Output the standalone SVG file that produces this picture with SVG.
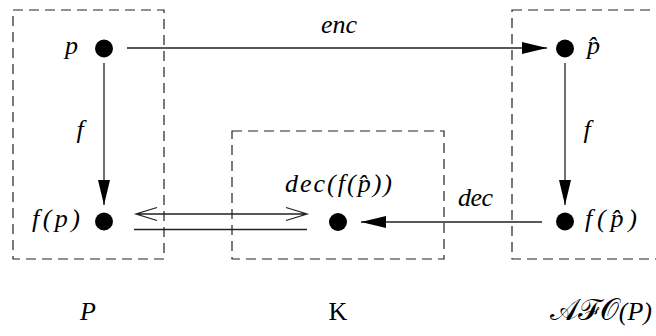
<svg xmlns="http://www.w3.org/2000/svg" width="656" height="336" viewBox="0 0 656 336">
<style>
.box{fill:none;stroke:#222;stroke-width:1.2;stroke-dasharray:10 6}
.ln{fill:none;stroke:#222;stroke-width:1.3}
.dot{fill:#000}
.m{font-family:"Liberation Serif","DejaVu Serif",serif;font-style:italic;font-size:26px;fill:#000}
.r{font-family:"Liberation Serif","DejaVu Serif",serif;font-size:26px;fill:#000}
.c{font-family:"DejaVu Serif","Liberation Serif",serif;font-size:30px;fill:#000}
</style>
<defs>
<marker id="ah" markerWidth="26" markerHeight="12" refX="25" refY="6" orient="auto" markerUnits="userSpaceOnUse">
<path d="M0,0 L25,6 L0,12 Z" fill="#000"/>
</marker>
</defs>
<g id="boxP"><rect class="box" x="13" y="10" width="151" height="249"/></g>
<g id="boxK"><rect class="box" x="232" y="131" width="212" height="128"/></g>
<g id="boxAFO"><rect class="box" x="512" y="10" width="160" height="249"/></g>
<g id="connectors">
<line class="ln" x1="127" y1="48" x2="547" y2="48" marker-end="url(#ah)"/>
<line class="ln" x1="104" y1="63" x2="104" y2="205" marker-end="url(#ah)"/>
<line class="ln" x1="565" y1="63" x2="565" y2="205" marker-end="url(#ah)"/>
<line class="ln" x1="542" y1="222" x2="361" y2="222" marker-end="url(#ah)"/>
<path class="ln" d="M136,214 L307,214 M157,207.5 L136,214 L157,220.5 M286,207.5 L307,214 L286,220.5"/>
<line class="ln" x1="134" y1="229.5" x2="307" y2="229.5"/>
</g>
<g id="node-p"><circle class="dot" cx="104" cy="48.5" r="9"/><text class="m" x="65" y="54">p</text></g>
<g id="node-fp"><circle class="dot" cx="104" cy="221.5" r="9"/><text class="m" x="32" y="227" textLength="48" lengthAdjust="spacing">f(p)</text></g>
<g id="node-phat"><circle class="dot" cx="565" cy="48.5" r="9"/><text class="m" x="587" y="54">p̂</text></g>
<g id="node-fphat"><circle class="dot" cx="565" cy="221.5" r="9"/><text class="m" x="585" y="227" textLength="52" lengthAdjust="spacing">f(p̂)</text></g>
<g id="node-dec"><circle class="dot" cx="338" cy="222" r="9"/><text class="m" x="285" y="192" textLength="107" lengthAdjust="spacing">dec(f(p̂))</text></g>
<g id="labels">
<text class="m" x="321" y="33" textLength="36" lengthAdjust="spacing">enc</text>
<text class="m" x="80" y="138" text-anchor="middle">f</text>
<text class="m" x="587" y="138" text-anchor="middle">f</text>
<text class="m" x="458" y="206" textLength="35" lengthAdjust="spacing">dec</text>
<text class="m" x="88" y="320" text-anchor="middle">P</text>
<text class="r" x="338" y="320" text-anchor="middle">K</text>
<text class="c" x="652" y="320" text-anchor="end">𝒜ℱ𝒪<tspan style="font-family:'Liberation Serif',serif;font-style:italic;font-size:26px">(P)</tspan></text>
</g>
</svg>
